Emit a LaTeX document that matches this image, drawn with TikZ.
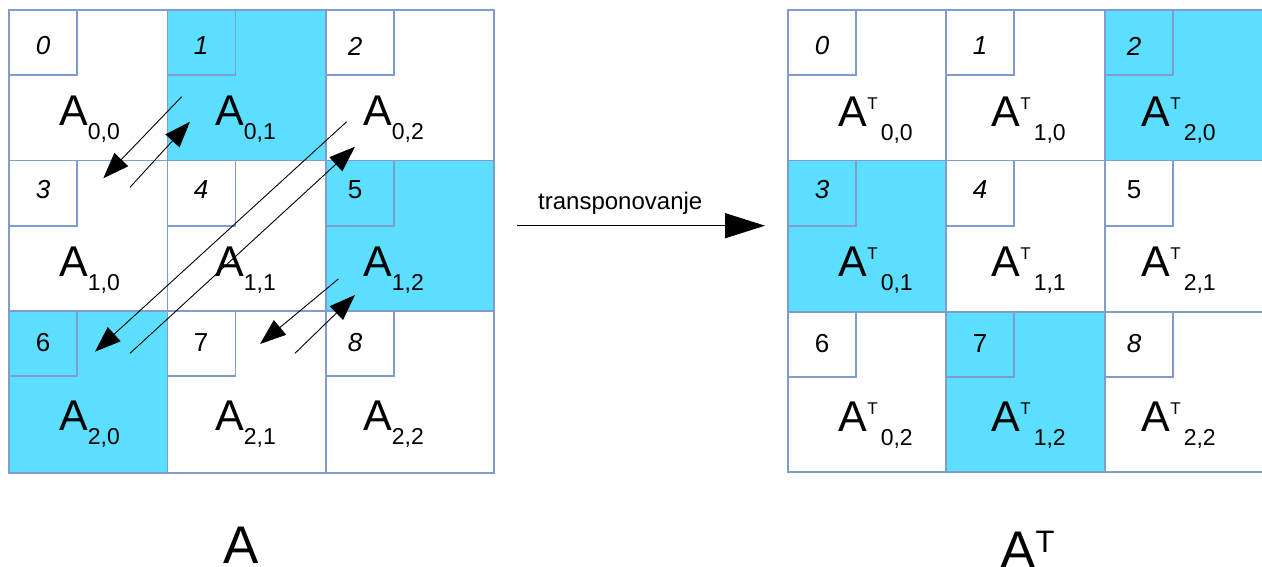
\documentclass[tikz,border=0pt]{standalone}
\usepackage{fontspec}
\setmainfont{Liberation Sans}
\usetikzlibrary{arrows.meta}

\definecolor{cellcyan}{RGB}{92,223,255}
\definecolor{gridblue}{RGB}{128,156,205}

% entry labels: A with an index, and A^T with an index
\newcommand\Aidx[1]{{\fontsize{43}{43}\selectfont A}\raisebox{-14pt}{\fontsize{23}{23}\selectfont #1}}
\newcommand\ATidx[1]{{\fontsize{43}{43}\selectfont A}\kern0.5pt\raisebox{17pt}{\fontsize{17}{17}\selectfont T}\kern3pt\raisebox{-14pt}{\fontsize{23}{23}\selectfont #1}}

\tikzset{
  gridline/.style={draw=gridblue, line width=1.6pt},
  cyancell/.style={fill=cellcyan},
  idx/.style={inner sep=0pt, anchor=center, font=\fontsize{26}{26}\selectfont},
  entry/.style={inner sep=0pt, anchor=base west},
  swap/.style={line width=0.9pt, -{Triangle[length=26pt,width=19pt]}},
  mainarrow/.style={line width=1.3pt, -{Triangle[length=40pt,width=25pt]}},
}

\begin{document}
\begin{tikzpicture}[x=1pt, y=-1pt]
\useasboundingbox (0,0) rectangle (1262,567);
\begin{scope}
\clip (0,0) rectangle (1262,567);

% ---------- matrix A ----------
\fill[cyancell] (167.5,10) rectangle (326,160.7);
\fill[cyancell] (326,160.7) rectangle (494,310.7);
\fill[cyancell] (9,310.7) rectangle (167.5,472.7);
\draw[gridline] (9,10) rectangle (494,472.7);
\foreach \x in {167.5,326} \draw[gridline] (\x,10) -- (\x,472.7);
\foreach \y in {160.7,310.7} \draw[gridline] (9,\y) -- (494,\y);
\foreach \x in {9,167.5,326} \foreach \y in {10,160.7,310.7}
  \draw[gridline] (\x,\y) rectangle ++(68,65);

\node[idx] (nA0) at (43,46)  {\itshape 0};
\node[idx] (nA1) at (201,46) {\itshape 1};
\node[idx] (nA2) at (355,46) {\itshape 2};
\node[idx] (nA3) at (43,190) {\itshape 3};
\node[idx] (nA4) at (201,190) {\itshape 4};
\node[idx] (nA5) at (355,190) {5};
\node[idx] (nA6) at (43,343) {6};
\node[idx] (nA7) at (201,343) {7};
\node[idx] (nA8) at (355,343) {\itshape 8};

\node[entry] (eA00) at (59,126)  {\Aidx{0,0}};
\node[entry] (eA01) at (215,126) {\Aidx{0,1}};
\node[entry] (eA02) at (363,126) {\Aidx{0,2}};
\node[entry] (eA10) at (59,276)  {\Aidx{1,0}};
\node[entry] (eA11) at (215,276) {\Aidx{1,1}};
\node[entry] (eA12) at (363,276) {\Aidx{1,2}};
\node[entry] (eA20) at (59,430)  {\Aidx{2,0}};
\node[entry] (eA21) at (215,430) {\Aidx{2,1}};
\node[entry] (eA22) at (363,430) {\Aidx{2,2}};

% swap arrows
\coordinate (s1a) at (181.7,96.7);  \coordinate (s1b) at (103.3,178.3);
\coordinate (s2a) at (130,187.3);   \coordinate (s2b) at (190,121.7);
\coordinate (s3a) at (346.7,121.7); \coordinate (s3b) at (95,351.7);
\coordinate (s4a) at (130,353.3);   \coordinate (s4b) at (355,146.7);
\coordinate (s5a) at (338.3,279);   \coordinate (s5b) at (260,344);
\coordinate (s6a) at (295,353.3);   \coordinate (s6b) at (355,295);
\foreach \i in {1,...,6} \draw[swap] (s\i a) -- (s\i b);

% ---------- transposition arrow ----------
\coordinate (tStart) at (517,225.7);
\coordinate (tEnd) at (765,225.7);
\draw[mainarrow] (tStart) -- (tEnd);
\node[entry, font=\fontsize{24}{24}\selectfont] (tLabel) at (538,209) {transponovanje};

% ---------- matrix A^T ----------
\fill[cyancell] (1105,10) rectangle (1270,160.7);
\fill[cyancell] (788,160.7) rectangle (946,311.7);
\fill[cyancell] (946,311.7) rectangle (1105,472);
\draw[gridline] (1270,10) -- (788,10) -- (788,472) -- (1270,472);
\foreach \x in {946,1105} \draw[gridline] (\x,10) -- (\x,472);
\foreach \y in {160.7,311.7} \draw[gridline] (788,\y) -- (1270,\y);
\foreach \x in {788,946,1105} \foreach \y in {10,160.7,311.7}
  \draw[gridline] (\x,\y) rectangle ++(68,65);

\node[idx] (nT0) at (822,46)   {\itshape 0};
\node[idx] (nT1) at (980,46)   {\itshape 1};
\node[idx] (nT2) at (1134,46)  {\itshape 2};
\node[idx] (nT3) at (822,190)  {\itshape 3};
\node[idx] (nT4) at (980,190)  {\itshape 4};
\node[idx] (nT5) at (1134,190) {5};
\node[idx] (nT6) at (822,344)  {6};
\node[idx] (nT7) at (980,344)  {7};
\node[idx] (nT8) at (1134,344) {\itshape 8};

\node[entry] (eT00) at (838,127)  {\ATidx{0,0}};
\node[entry] (eT10) at (991,127)  {\ATidx{1,0}};
\node[entry] (eT20) at (1141,127) {\ATidx{2,0}};
\node[entry] (eT01) at (838,276)  {\ATidx{0,1}};
\node[entry] (eT11) at (991,276)  {\ATidx{1,1}};
\node[entry] (eT21) at (1141,276) {\ATidx{2,1}};
\node[entry] (eT02) at (838,431)  {\ATidx{0,2}};
\node[entry] (eT12) at (991,431)  {\ATidx{1,2}};
\node[entry] (eT22) at (1141,431) {\ATidx{2,2}};

% ---------- captions ----------
\node[entry, font=\fontsize{53}{53}\selectfont] (capA) at (223,563) {A};
\node[entry] (capAT) at (1000,568) {{\fontsize{53}{53}\selectfont A}\raisebox{16pt}{\fontsize{31}{31}\selectfont T}};
\end{scope}
\end{tikzpicture}
\end{document}
